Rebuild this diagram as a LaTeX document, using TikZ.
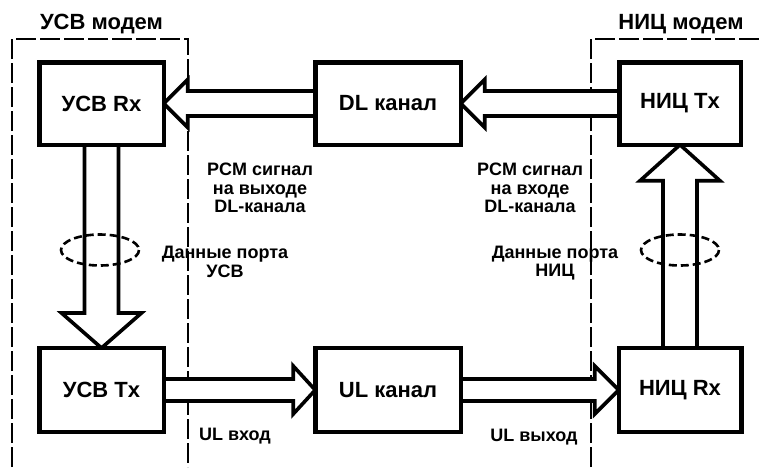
\documentclass[tikz,border=0pt]{standalone}
\usepackage{fontspec}
\setmainfont{Liberation Sans}
\usetikzlibrary{calc}
\pgfdeclarelayer{back}
\pgfdeclarelayer{mid}
\pgfsetlayers{back,mid,main}
\tikzset{
  blk/.style={draw, line width=4.5pt, fill=white, outer sep=0pt, inner sep=0pt,
    font=\fontsize{22}{24}\selectfont\bfseries},
  fat/.style={draw, line width=3.6pt, fill=white, line join=miter},
  modemframe/.style={line width=1.6pt, dash pattern=on 20pt off 4pt},
  ring/.style={line width=2.6pt, dash pattern=on 8pt off 4pt},
  ttl/.style={font=\fontsize{22}{24}\selectfont\bfseries, inner sep=0pt},
  lbl/.style={font=\fontsize{18}{18.5}\selectfont\bfseries, align=center, inner sep=0pt}
}
\newcommand\hollowarrow[5]{%
  \path (#2) coordinate (ft) ($(#2)!#5!(#1)$) coordinate (fb) (#1) coordinate (fs);
  \draw[fat] ($(fs)!#3!90:(ft)$) -- ($(fb)!#3!-90:(fs)$) -- ($(fb)!#4!-90:(fs)$) -- (ft)
    -- ($(fb)!#4!90:(fs)$) -- ($(fb)!#3!90:(fs)$) -- ($(fs)!#3!-90:(ft)$) -- cycle;
}
\begin{document}
\begin{tikzpicture}[x=1pt,y=-1pt]
\useasboundingbox (0,0) rectangle (761,467);
% blocks
\node[blk, minimum width=124.5pt, minimum height=82.5pt] (usvrx) at (101.5,103.5) {УСВ Rx};
\node[blk, minimum width=145.5pt, minimum height=82.5pt] (dl) at (388,103.5) {DL канал};
\node[blk, minimum width=121.5pt, minimum height=82.5pt] (nictx) at (680,103.5) {НИЦ Tx};
\node[blk, minimum width=124.5pt, minimum height=84pt] (usvtx) at (101.5,390) {УСВ Tx};
\node[blk, minimum width=145.5pt, minimum height=84pt] (ul) at (388,390) {UL канал};
\node[blk, minimum width=122.5pt, minimum height=84pt] (nicrx) at (680,390) {НИЦ Rx};
% modem frames
\begin{pgfonlayer}{back}
\draw[modemframe] (12,467) -- (12,39) -- (188,39) -- (188,467);
\draw[modemframe] (591,467) -- (591,39) -- (761,39);
\end{pgfonlayer}
\node[ttl] (usvmodem) at (101.5,24.5) {УСВ модем};
\node[ttl] (nicmodem) at (681,24.5) {НИЦ модем};
% wide arrows
\begin{pgfonlayer}{mid}
\hollowarrow{dl.west}{usvrx.east}{12.5pt}{24pt}{24pt}
\hollowarrow{nictx.west}{dl.east}{12.5pt}{24pt}{24pt}
\hollowarrow{usvrx.south}{usvtx.north}{17pt}{40pt}{35pt}
\hollowarrow{nicrx.north}{nictx.south}{17pt}{40pt}{36pt}
\hollowarrow{usvtx.east}{ul.west}{11pt}{24pt}{22pt}
\hollowarrow{ul.east}{nicrx.west}{11pt}{24pt}{24pt}
\end{pgfonlayer}
% port rings
\draw[ring] (100,250) ellipse [x radius=39, y radius=15.5];
\draw[ring] (680,250) ellipse [x radius=39, y radius=15.5];
% labels
\node[lbl] (pcmout) at (260,188) {PCM сигнал\\на выходе\\DL-канала};
\node[lbl] (pcmin) at (530,188) {PCM сигнал\\на входе\\DL-канала};
\node[lbl] (portusv) at (225,262) {Данные порта\\УСВ};
\node[lbl] (portnic) at (555,263) {Данные порта\\НИЦ};
\node[lbl] (ulin) at (235,436) {UL вход};
\node[lbl] (ulout) at (534,437) {UL выход};
\end{tikzpicture}
\end{document}
